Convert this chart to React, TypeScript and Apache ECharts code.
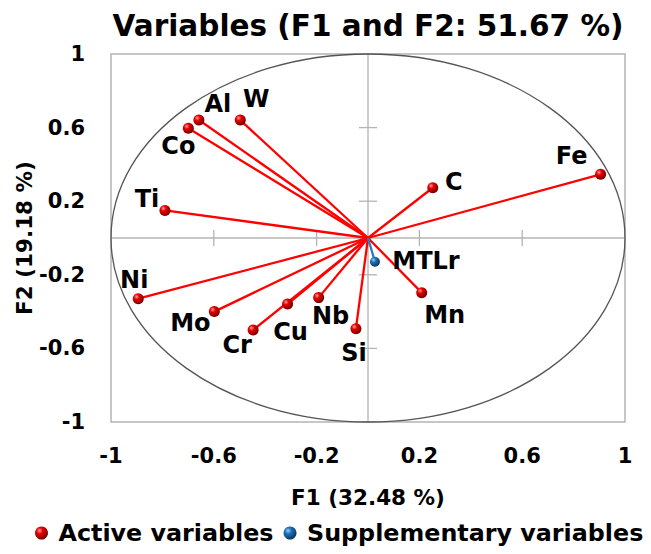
import React, { useEffect, useRef } from "react";
import * as echarts from "echarts";

// Correlation circle: projections of the variables on the first two factors
const TITLE = "Variables (F1 and F2: 51.67 %)";
const X_NAME = "F1 (32.48 %)";
const Y_NAME = "F2 (19.18 %)";
const ACTIVE_NAME = "Active variables";
const SUPP_NAME = "Supplementary variables";

const TICKS = [-1, -0.6, -0.2, 0.2, 0.6, 1];

const ACTIVE_VARS = ["Fe", "C", "Al", "W", "Co", "Ti", "Ni", "Mo", "Cr", "Cu", "Nb", "Si", "Mn"];
const ACTIVE_F1 = [0.905, 0.252, -0.658, -0.497, -0.699, -0.79, -0.894, -0.598, -0.447, -0.313, -0.192, -0.047, 0.209];
const ACTIVE_F2 = [0.346, 0.273, 0.641, 0.641, 0.596, 0.15, -0.33, -0.4, -0.5, -0.359, -0.324, -0.493, -0.297];

const SUPP_VARS = ["MTLr"];
const SUPP_F1 = [0.027];
const SUPP_F2 = [-0.129];

// label placement around each marker (pixels from the marker centre)
const LABEL_OFFSET: Record<string, [number, number]> = {
  Fe: [-29, -18],
  C: [21, -6],
  Al: [19, -16],
  W: [16, -21],
  Co: [-10, 18],
  Ti: [-18, -11],
  Ni: [-4, -19],
  Mo: [-24, 11],
  Cr: [-16, 15],
  Cu: [3, 28],
  Nb: [12, 18],
  Si: [-2, 24],
  Mn: [23, 22],
  MTLr: [51, -1],
};

const FONT = "DejaVu Sans";
const GRID_GRAY = "#b4b4b4";

const redBall = new echarts.graphic.RadialGradient(0.35, 0.32, 0.7, [
  { offset: 0, color: "#ff9c9c" },
  { offset: 0.35, color: "#e80000" },
  { offset: 1, color: "#700000" },
]);
const blueBall = new echarts.graphic.RadialGradient(0.35, 0.32, 0.7, [
  { offset: 0, color: "#9ccdf5" },
  { offset: 0.35, color: "#1f72bd" },
  { offset: 1, color: "#0a355f" },
]);

function points(names: string[], xs: number[], ys: number[]) {
  return names.map((n, i) => ({
    name: n,
    value: [xs[i], ys[i]],
    label: { offset: LABEL_OFFSET[n] },
  }));
}

function vectors(xs: number[], ys: number[]) {
  return xs.map((x, i) => ({ coords: [[0, 0], [x, ys[i]]] }));
}

export default function App() {
  const ref = useRef<HTMLDivElement>(null);

  useEffect(() => {
    if (!ref.current) return;
    const chart = echarts.init(ref.current, undefined, { renderer: "svg" });
    const innerTicks = TICKS.filter((t) => Math.abs(t) < 1);

    const labelStyle = {
      show: true,
      position: "inside",
      formatter: "{b}",
      color: "#000",
      opacity: 1,
      textBorderWidth: 0,
      fontFamily: FONT,
      fontWeight: "bold",
      fontSize: 24,
    };

    chart.setOption({
      animation: false,
      backgroundColor: "#fff",
      title: {
        text: TITLE,
        left: 363,
        top: 6,
        textAlign: "center",
        textStyle: { fontFamily: FONT, fontWeight: "bold", fontSize: 29.5, color: "#000" },
      },
      legend: {
        data: [ACTIVE_NAME, SUPP_NAME],
        left: 30,
        top: 516,
        icon: "circle",
        itemWidth: 24,
        itemHeight: 13,
        itemGap: 10,
        textStyle: { fontFamily: FONT, fontWeight: "bold", fontSize: 23.8, color: "#000" },
      },
      grid: {
        left: 111,
        right: 26,
        top: 54,
        bottom: 132,
        show: true,
        borderColor: GRID_GRAY,
        borderWidth: 1.5,
      },
      xAxis: {
        type: "value",
        min: -1,
        max: 1,
        interval: 0.4,
        name: X_NAME,
        nameLocation: "middle",
        nameGap: 64,
        nameMoveOverlap: false,
        nameTextStyle: { fontFamily: FONT, fontWeight: "bold", fontSize: 21.5, color: "#000" },
        axisLine: { show: false, onZero: false },
        axisTick: { show: false },
        splitLine: { show: false },
        axisLabel: {
          margin: 23,
          fontFamily: FONT,
          fontWeight: "bold",
          fontSize: 21,
          color: "#000",
          formatter: (v: number) => String(Math.round(v * 10) / 10),
        },
      },
      yAxis: {
        type: "value",
        min: -1,
        max: 1,
        interval: 0.4,
        name: Y_NAME,
        nameLocation: "middle",
        nameRotate: 90,
        nameGap: 76,
        nameMoveOverlap: false,
        nameTextStyle: { fontFamily: FONT, fontWeight: "bold", fontSize: 21.5, color: "#000" },
        axisLine: { show: false, onZero: false },
        axisTick: { show: false },
        splitLine: { show: false },
        axisLabel: {
          margin: 26,
          fontFamily: FONT,
          fontWeight: "bold",
          fontSize: 21,
          color: "#000",
          formatter: (v: number) => String(Math.round(v * 10) / 10),
        },
      },
      series: [
        {
          // unit circle, zero lines and their tick marks
          type: "custom",
          name: "frame",
          silent: true,
          z: 1,
          data: [[0, 0]],
          renderItem: (params: any, api: any) => {
            const c = api.coord([0, 0]);
            const s = api.size([1, 1]);
            const lo = api.coord([-1, -1]);
            const hi = api.coord([1, 1]);
            const lineStyle = { stroke: GRID_GRAY, lineWidth: 1.3 };
            const children: any[] = [
              {
                type: "line",
                shape: { x1: lo[0], y1: c[1], x2: hi[0], y2: c[1] },
                style: lineStyle,
              },
              {
                type: "line",
                shape: { x1: c[0], y1: lo[1], x2: c[0], y2: hi[1] },
                style: lineStyle,
              },
            ];
            innerTicks.forEach((t) => {
              const px = api.coord([t, 0]);
              const py = api.coord([0, t]);
              children.push({
                type: "line",
                shape: { x1: px[0], y1: c[1] - 8, x2: px[0], y2: c[1] + 8 },
                style: lineStyle,
              });
              children.push({
                type: "line",
                shape: { x1: c[0] - 9, y1: py[1], x2: c[0] + 9, y2: py[1] },
                style: lineStyle,
              });
            });
            children.push({
              type: "ellipse",
              shape: { cx: c[0], cy: c[1], rx: s[0], ry: s[1] },
              style: { fill: "none", stroke: "#555", lineWidth: 1.3 },
            });
            return { type: "group", children };
          },
        },
        {
          type: "lines",
          name: "active-vectors",
          coordinateSystem: "cartesian2d",
          z: 2,
          silent: true,
          lineStyle: { color: "#ff0000", width: 2.3, opacity: 1 },
          data: vectors(ACTIVE_F1, ACTIVE_F2),
        },
        {
          type: "lines",
          name: "supp-vectors",
          coordinateSystem: "cartesian2d",
          z: 2,
          silent: true,
          lineStyle: { color: "#2a7cc4", width: 2.3, opacity: 1 },
          data: vectors(SUPP_F1, SUPP_F2),
        },
        {
          type: "scatter",
          name: ACTIVE_NAME,
          z: 3,
          symbol: "circle",
          symbolSize: 11,
          itemStyle: { color: redBall, opacity: 1 },
          label: labelStyle,
          data: points(ACTIVE_VARS, ACTIVE_F1, ACTIVE_F2),
        },
        {
          type: "scatter",
          name: SUPP_NAME,
          z: 3,
          symbol: "circle",
          symbolSize: 10,
          itemStyle: { color: blueBall, opacity: 1 },
          label: labelStyle,
          data: points(SUPP_VARS, SUPP_F1, SUPP_F2),
        },
      ],
    });

    return () => chart.dispose();
  }, []);

  return (
    <div
      ref={ref}
      style={{ position: "fixed", left: 0, top: 0, width: 651, height: 554, background: "#fff" }}
    />
  );
}
